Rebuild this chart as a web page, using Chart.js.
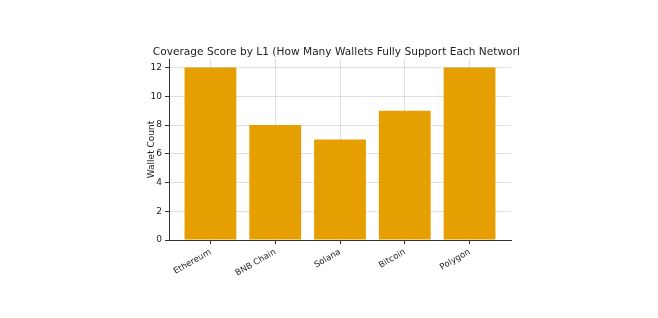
<!DOCTYPE html>
<html>
<head>
<meta charset="utf-8">
<script src="https://cdn.jsdelivr.net/npm/chart.js@4"></script>
<style>
  html, body { margin: 0; padding: 0; background: #fff; }
  #wrap { width: 658px; height: 318px; }
</style>
</head>
<body>
<div id="wrap"><canvas id="chart" width="658" height="318"></canvas></div>
<script>
// data
const networks = ['Ethereum', 'BNB Chain', 'Solana', 'Bitcoin', 'Polygon'];
const walletCounts = [12, 8, 7, 9, 12];
const yTicks = [0, 2, 4, 6, 8, 10, 12];
const chartTitle = 'Coverage Score by L1 (How Many Wallets Fully Support Each Network)';

const FONT = '"DejaVu Sans", sans-serif';
const axisColor = '#333333';
const gridColor = 'rgba(0, 0, 0, 0.12)';

// title drawn by hand so it can be clipped like the reference
const clippedTitle = {
    id: 'clippedTitle',
    afterDraw(chart) {
        const ctx = chart.ctx;
        const area = chart.chartArea;
        ctx.save();
        ctx.beginPath();
        ctx.rect(0, 0, 519, 318);
        ctx.clip();
        ctx.font = '10.6px ' + FONT;
        ctx.fillStyle = '#222';
        ctx.textAlign = 'center';
        ctx.textBaseline = 'middle';
        ctx.fillText(chartTitle, (area.left + area.right) / 2, 52);
        ctx.restore();
    }
};

const ctx = document.getElementById('chart').getContext('2d');
new Chart(ctx, {
    type: 'bar',
    data: {
        datasets: [{
            data: walletCounts.map((v, i) => ({ x: i, y: v })),
            backgroundColor: '#E69F00',
            borderWidth: 0,
            barPercentage: 0.8,
            categoryPercentage: 1.0
        }]
    },
    options: {
        responsive: false,
        animation: false,
        layout: { padding: { left: 146, right: 147, top: 59, bottom: 0 } },
        plugins: { legend: { display: false }, tooltip: { enabled: false } },
        scales: {
            x: {
                type: 'linear',
                min: -0.64,
                max: 4.64,
                offset: false,
                z: 1,
                afterBuildTicks: scale => { scale.ticks = networks.map((n, i) => ({ value: i })); },
                afterFit: scale => { scale.height = 78; },
                ticks: {
                    callback: v => networks[v],
                    minRotation: 30,
                    maxRotation: 30,
                    color: '#222',
                    font: { family: FONT, size: 8.5 },
                    padding: 3
                },
                grid: {
                    offset: false,
                    color: gridColor,
                    borderDash: [3, 3],
                    tickColor: axisColor,
                    tickLength: 4,
                    tickBorderDash: []
                },
                border: { display: true, color: axisColor, width: 1 }
            },
            y: {
                min: 0,
                max: 12.6,
                z: 1,
                afterBuildTicks: scale => { scale.ticks = yTicks.map(v => ({ value: v })); },
                afterFit: scale => { scale.width = 23; },
                ticks: {
                    color: '#222',
                    font: { family: FONT, size: 9 },
                    padding: 3
                },
                grid: {
                    color: gridColor,
                    borderDash: [3, 3],
                    tickColor: axisColor,
                    tickLength: 4,
                    tickBorderDash: []
                },
                border: { display: true, color: axisColor, width: 1 },
                title: {
                    display: true,
                    text: 'Wallet Count',
                    color: '#222',
                    font: { family: FONT, size: 9 },
                    padding: 0
                }
            }
        }
    },
    plugins: [clippedTitle]
});
</script>
</body>
</html>
